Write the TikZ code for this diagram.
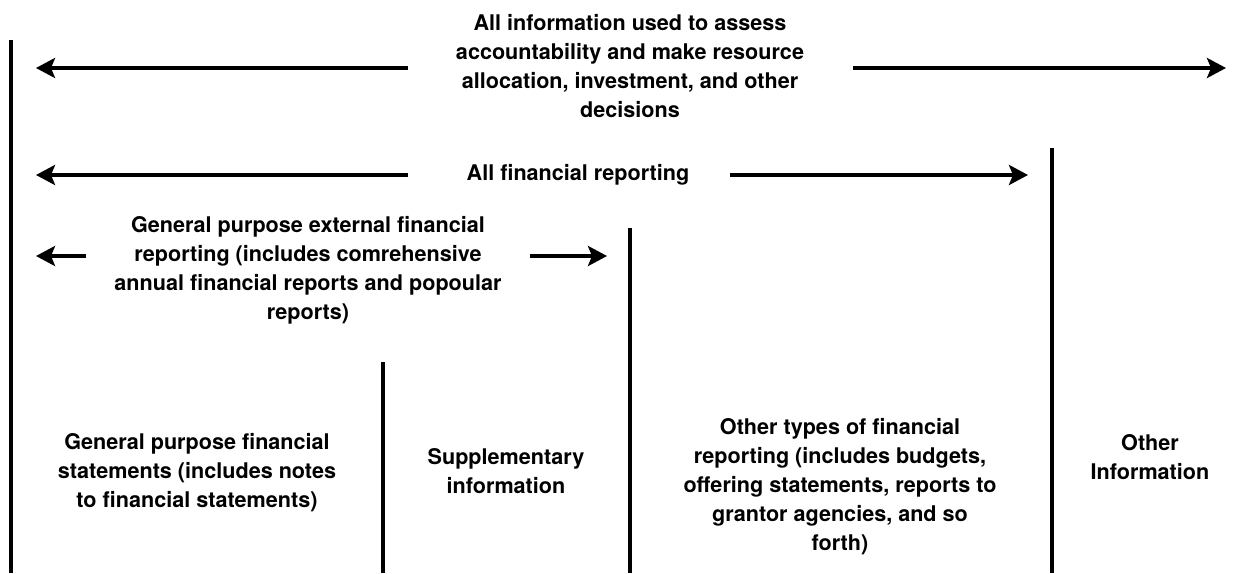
\documentclass[tikz,border=0pt]{standalone}
\usepackage{fontspec}
\setmainfont{TeX Gyre Heros}
\usetikzlibrary{arrows.meta}
\begin{document}
\begin{tikzpicture}[x=1pt,y=-1pt,
  lbl/.style={font=\fontsize{21.6}{29}\selectfont\bfseries, align=center, inner sep=0pt},
  vline/.style={line width=3.5pt},
  arr/.style={line width=3.5pt, -{Stealth[length=19pt,width=20pt,inset=4pt]}}]
\useasboundingbox (0,0) rectangle (1247,573);
% vertical lines
\coordinate (v1t) at (11,40);   \coordinate (v1b) at (11,573);
\coordinate (v2t) at (383,362); \coordinate (v2b) at (383,573);
\coordinate (v3t) at (630,228); \coordinate (v3b) at (630,573);
\coordinate (v4t) at (1052,148); \coordinate (v4b) at (1052,573);
\draw[vline] (v1t) -- (v1b);
\draw[vline] (v2t) -- (v2b);
\draw[vline] (v3t) -- (v3b);
\draw[vline] (v4t) -- (v4b);
% labels
\node[lbl] (top) at (630,66) {All information used to assess\\accountability and make resource\\allocation, investment, and other\\decisions};
\node[lbl] (afr) at (578,175) {All financial reporting};
\node[lbl] (gpe) at (308,270) {General purpose external financial\\reporting (includes comrehensive\\annual financial reports and popoular\\reports)};
\node[lbl] (gpfs) at (197,473) {General purpose financial\\statements (includes notes\\to financial statements)};
\node[lbl] (supp) at (506,471) {Supplementary\\information};
\node[lbl] (oth) at (840,487) {Other types of financial\\reporting (includes budgets,\\offering statements, reports to\\grantor agencies, and so\\forth)};
\node[lbl] (oinf) at (1150,457) {Other\\Information};
% arrows
\coordinate (a1s) at (408,68);  \coordinate (a1e) at (36,68);
\coordinate (a2s) at (853,68);  \coordinate (a2e) at (1226,68);
\coordinate (b1s) at (408,175); \coordinate (b1e) at (36,175);
\coordinate (b2s) at (730,175); \coordinate (b2e) at (1028,175);
\coordinate (c1s) at (86,256);  \coordinate (c1e) at (36,256);
\coordinate (c2s) at (530,256); \coordinate (c2e) at (607,256);
\draw[arr] (a1s) -- (a1e);
\draw[arr] (a2s) -- (a2e);
\draw[arr] (b1s) -- (b1e);
\draw[arr] (b2s) -- (b2e);
\draw[arr] (c1s) -- (c1e);
\draw[arr] (c2s) -- (c2e);
\end{tikzpicture}
\end{document}
